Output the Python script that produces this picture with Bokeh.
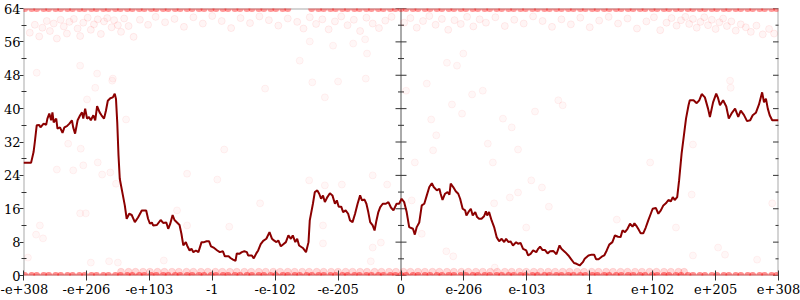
from bokeh.plotting import figure
from bokeh.models import FixedTicker, LinearAxis, Span, Range1d
from bokeh.embed import file_html
from bokeh.resources import INLINE

# ---- axis ticks / labels ----
tick_pos = [-6, -5, -4, -3, -2, -1, 0, 1, 2, 3, 4, 5, 6]
tick_labels = ["-e+308", "-e+206", "-e+103", "-1", "-e-102", "-e-205", "0",
               "e-206", "e-103", "1", "e+102", "e+205", "e+308"]
y_major = [0, 8, 16, 24, 32, 40, 48, 56, 64]
y_minor = [4, 12, 20, 28, 36, 44, 52, 60]

# ---- dark red line ----
line_x = [-6.0, -5.88, -5.84, -5.82, -5.79, -5.75, -5.73, -5.68, -5.64, -5.62, -5.59, -5.56, -5.54, -5.52,
          -5.48, -5.46, -5.42, -5.38, -5.35, -5.31, -5.27, -5.23, -5.21, -5.18, -5.14, -5.10, -5.07, -5.05,
          -5.02, -4.99, -4.96, -4.93, -4.89, -4.86, -4.83, -4.79, -4.76, -4.72, -4.69, -4.66, -4.62, -4.58,
          -4.55, -4.53, -4.51, -4.49, -4.47, -4.42, -4.39, -4.36, -4.32, -4.28, -4.23, -4.18, -4.12, -4.05,
          -4.02, -3.99, -3.96, -3.94, -3.88, -3.82, -3.78, -3.73, -3.70, -3.67, -3.63, -3.60, -3.56, -3.52,
          -3.49, -3.46, -3.42, -3.40, -3.36, -3.33, -3.30, -3.26, -3.22, -3.17, -3.13, -3.09, -3.05, -3.02,
          -2.97, -2.92, -2.88, -2.83, -2.80, -2.74, -2.71, -2.67, -2.63, -2.61, -2.57, -2.53, -2.49, -2.45,
          -2.43, -2.37, -2.34, -2.30, -2.27, -2.23, -2.19, -2.14, -2.09, -2.05, -2.02, -1.98, -1.95, -1.91,
          -1.87, -1.83, -1.79, -1.75, -1.72, -1.68, -1.65, -1.62, -1.56, -1.51, -1.47, -1.45, -1.40, -1.37,
          -1.33, -1.30, -1.27, -1.24, -1.21, -1.17, -1.13, -1.09, -1.05, -1.02, -0.99, -0.95, -0.92, -0.88,
          -0.84, -0.81, -0.77, -0.73, -0.69, -0.65, -0.62, -0.58, -0.55, -0.52, -0.49, -0.45, -0.42, -0.39,
          -0.36, -0.33, -0.29, -0.24, -0.20, -0.16, -0.12, -0.07, -0.03, 0.01, 0.05, 0.09, 0.13, 0.19,
          0.22, 0.25, 0.29, 0.33, 0.37, 0.41, 0.45, 0.49, 0.52, 0.57, 0.61, 0.63, 0.66, 0.70,
          0.74, 0.77, 0.79, 0.83, 0.87, 0.91, 0.94, 0.98, 1.02, 1.04, 1.08, 1.11, 1.14, 1.18,
          1.21, 1.24, 1.28, 1.32, 1.35, 1.37, 1.40, 1.44, 1.48, 1.52, 1.56, 1.60, 1.64, 1.67,
          1.71, 1.74, 1.78, 1.83, 1.86, 1.90, 1.94, 1.99, 2.02, 2.06, 2.10, 2.15, 2.18, 2.21,
          2.25, 2.29, 2.33, 2.37, 2.42, 2.47, 2.52, 2.55, 2.61, 2.66, 2.70, 2.75, 2.79, 2.84,
          2.89, 2.92, 2.98, 3.03, 3.07, 3.10, 3.14, 3.19, 3.23, 3.27, 3.31, 3.36, 3.40, 3.45,
          3.49, 3.52, 3.56, 3.60, 3.64, 3.68, 3.71, 3.75, 3.77, 3.81, 3.85, 3.89, 3.93, 3.97,
          4.00, 4.05, 4.09, 4.13, 4.17, 4.21, 4.25, 4.29, 4.32, 4.35, 4.39, 4.42, 4.46, 4.50,
          4.53, 4.57, 4.59, 4.65, 4.70, 4.74, 4.78, 4.83, 4.88, 4.91, 4.96, 5.01, 5.04, 5.07,
          5.12, 5.17, 5.21, 5.26, 5.31, 5.36, 5.40, 5.45, 5.50, 5.55, 5.59, 5.64, 5.69, 5.74,
          5.77, 5.80, 5.83, 5.86, 5.90, 5.94, 6.0]
line_y = [27.0, 27.0, 29.6, 32.0, 36.0, 36.1, 35.5, 36.4, 36.1, 37.6, 38.8, 37.2, 39.1, 36.7,
          37.6, 35.2, 35.5, 34.2, 35.5, 35.8, 36.4, 37.2, 35.5, 34.0, 37.2, 38.4, 39.1, 37.6,
          40.0, 37.6, 38.0, 37.2, 38.4, 37.2, 40.6, 39.1, 38.4, 37.6, 39.5, 41.9, 42.5, 42.7,
          43.6, 42.3, 36.7, 28.8, 23.2, 19.2, 16.8, 13.6, 14.8, 14.5, 12.8, 13.9, 15.6, 15.6,
          13.6, 12.4, 12.7, 12.0, 12.1, 13.3, 12.6, 12.7, 11.2, 12.3, 14.5, 13.3, 12.7, 12.1,
          10.0, 7.2, 8.0, 7.2, 6.0, 6.4, 5.6, 6.0, 5.6, 8.0, 8.0, 8.2, 8.2, 7.0,
          6.6, 6.0, 5.6, 5.8, 4.6, 4.6, 4.2, 3.8, 3.5, 5.3, 5.2, 5.6, 5.8, 5.6,
          4.8, 4.8, 4.1, 5.3, 6.0, 7.5, 8.3, 8.8, 10.4, 8.8, 8.4, 8.0, 8.4, 7.0,
          7.5, 8.0, 9.6, 8.8, 9.6, 8.0, 8.8, 7.2, 6.6, 5.6, 8.0, 13.2, 17.2, 20.0,
          20.4, 19.6, 18.4, 19.2, 17.6, 18.8, 19.7, 19.2, 17.2, 18.0, 16.5, 16.5, 15.2, 15.6,
          14.8, 13.2, 12.8, 14.8, 17.2, 19.2, 18.0, 18.2, 17.2, 15.2, 12.8, 12.0, 10.8, 13.2,
          15.2, 16.4, 17.2, 17.2, 17.6, 16.3, 15.6, 17.2, 17.2, 18.4, 17.6, 15.2, 11.6, 11.2,
          9.8, 11.6, 12.7, 16.8, 17.2, 19.2, 21.2, 22.1, 21.2, 20.4, 20.8, 19.6, 18.1, 19.6,
          20.0, 19.4, 22.0, 21.2, 20.2, 19.6, 18.4, 16.0, 15.6, 14.4, 15.4, 16.0, 14.4, 15.2,
          14.0, 13.6, 13.6, 14.2, 15.4, 14.4, 15.2, 13.2, 11.6, 9.2, 8.2, 8.8, 8.0, 8.8,
          8.0, 8.2, 7.2, 8.0, 7.6, 7.8, 6.4, 6.0, 4.8, 5.2, 6.0, 5.6, 6.4, 6.9,
          6.1, 6.1, 5.3, 5.8, 5.9, 5.1, 7.2, 6.4, 5.6, 4.8, 4.0, 3.0, 2.8, 2.4,
          3.2, 4.0, 4.8, 5.0, 5.0, 3.9, 3.9, 4.5, 4.8, 6.0, 7.4, 8.0, 9.6, 9.3,
          9.2, 10.8, 10.4, 11.2, 12.4, 11.7, 12.5, 11.7, 11.2, 10.1, 10.1, 11.5, 13.2, 14.8,
          16.0, 16.2, 14.8, 15.6, 16.8, 17.3, 18.1, 17.8, 18.8, 18.1, 18.8, 22.8, 29.2, 34.0,
          37.6, 40.8, 42.0, 42.0, 41.3, 42.0, 43.5, 42.7, 40.0, 38.0, 41.5, 43.6, 42.5, 40.8,
          42.0, 40.5, 37.6, 39.0, 40.0, 38.0, 39.5, 38.5, 37.0, 37.2, 38.4, 39.0, 41.0, 43.9,
          41.5, 42.4, 40.0, 38.4, 37.2, 37.2, 37.2]

# ---- faint scatter points ----
band_x = [-5.98, -5.87, -5.79, -5.68, -5.6, -5.49, -5.41, -5.3, -5.22, -5.11, -5.03, -4.92, -4.84,
          -4.73, -4.65, -4.54, -4.46, -4.35, -4.27, -4.16, -4.08, -3.97, -3.89, -3.78, -3.7, -3.59,
          -3.51, -3.4, -3.32, -3.21, -3.13, -3.02, -2.94, -2.83, -2.75, -2.64, -2.56, -2.45, -2.37,
          -2.26, -2.18, -2.07, -1.99, -1.88, -1.8, -1.69, -1.61, -1.5, -1.42, -1.31, -1.23, -1.12,
          -1.04, -0.93, -0.85, -0.74, -0.66, -0.55, -0.47, -0.36, -0.28, -0.17, -0.09, 0.0, 0.08,
          0.19, 0.27, 0.38, 0.46, 0.57, 0.65, 0.76, 0.84, 0.95, 1.03, 1.14, 1.22, 1.33, 1.41, 1.52,
          1.6, 1.71, 1.79, 1.9, 1.98, 2.09, 2.17, 2.28, 2.36, 2.47, 2.55, 2.66, 2.74, 2.85, 2.93,
          3.04, 3.12, 3.23, 3.31, 3.42, 3.5, 3.61, 3.69, 3.8, 3.88, 3.99, 4.07, 4.18, 4.26, 4.37,
          4.45, 4.56, 4.64, 4.75, 4.83, 4.94, 5.02, 5.13, 5.21, 5.32, 5.4, 5.51, 5.59, 5.7, 5.78,
          5.89, 5.97]
band_y = [0.0] * len(band_x)

low_x = [-4.45, -4.33, -4.22, -4.1, -3.99, -3.87, -3.76, -3.64, -3.53, -3.41, -3.3, -3.18, -3.07,
         -2.95, -2.84, -2.72, -2.61, -2.49, -2.38, -2.26, -2.15, -2.03, -1.92, -1.8, -1.69, -1.57,
         -1.46, -1.34, -1.23, -1.11, -1.0, -0.88, -0.77, -0.65, -0.54, -0.42, -0.31, -0.19, -0.08,
         0.04, 0.15, 0.27, 0.38, 0.5, 0.61, 0.73, 0.84, 0.96, 1.07, 1.19, 1.3, 1.42, 1.53, 1.65,
         1.76, 1.88, 1.99, 2.11, 2.22, 2.34, 2.45, 2.57, 2.68, 2.8, 2.91, 3.03, 3.14, 3.26, 3.37,
         3.49, 3.6, 3.72, 3.83, 3.95, 4.06, 4.18, 4.29, 4.41, 4.5]
low_y = [0.9] * len(low_x)

top_x = [x for x in band_x if not (-1.76 < x < -1.42)]
top_y = [64.0] * len(top_x)

cloud_x = [-5.9, -5.82, -5.75, -5.7, -5.63, -5.58, -5.52, -5.47, -5.41, -5.36, -5.31, -5.27, -5.2,
           -5.14, -5.1, -5.05, -4.98, -4.93, -4.88, -4.82, -4.77, -4.72, -4.67, -4.6, -4.56, -4.5,
           -4.45, -4.4, -4.33, -4.25, -4.15, -4.02, -3.9, -3.75, -3.6, -3.45, -3.3, -3.15, -3.0,
           -2.85, -2.7, -2.55, -2.4, -2.25, -2.1, -1.95, -1.8, -1.65, -1.55, -1.45, -1.35, -1.25,
           -1.15, -1.05, -0.95, -0.85, -0.75, -0.65, -0.55, -0.45, -0.35, -0.25, -0.15, 0.05, 0.15,
           0.25, 0.35, 0.45, 0.55, 0.65, 0.75, 0.85, 0.95, 1.05, 1.15, 1.25, 1.35, 1.5, 1.65, 1.8,
           1.95, 2.1, 2.25, 2.4, 2.55, 2.7, 2.85, 3.0, 3.15, 3.3, 3.45, 3.6, 3.75, 3.9, 4.02, 4.12,
           4.22, 4.3, 4.38, 4.45, 4.52, 4.58, 4.64, 4.7, 4.76, 4.82, 4.88, 4.94, 5.0, 5.06, 5.12,
           5.18, 5.25, 5.32, 5.4, 5.48, 5.56, 5.65, 5.75, 5.85, 5.93]
cloud_y = [58.2, 60.1, 57.3, 59.4, 61.0, 58.6, 60.4, 56.8, 61.3, 59.7, 58.0, 60.8, 61.5,
           59.2, 57.4, 60.6, 61.8, 58.9, 60.2, 61.4, 57.9, 60.9, 61.7, 59.5, 61.2, 60.0,
           58.4, 61.6, 59.8, 57.2, 61.3, 60.1, 62.0, 60.7, 61.5, 59.6, 61.9, 60.4, 62.2,
           61.0, 59.3, 61.7, 60.5, 62.1, 61.2, 59.9, 61.6, 60.8, 59.2, 61.9, 60.3, 61.4,
           59.0, 60.9, 62.1, 60.0, 61.3, 58.6, 61.8, 60.4, 59.3, 61.1, 62.0, 60.6, 61.7,
           59.4, 61.0, 62.2, 60.1, 61.5, 58.9, 61.2, 60.3, 62.0, 59.7, 61.4, 60.6, 61.9, 59.8, 61.3,
           60.4, 62.1, 61.0, 59.6, 61.4, 60.2, 61.8, 59.5, 61.1, 62.0, 60.4, 61.6, 59.2, 60.9, 61.9, 58.8,
           60.6, 61.7, 59.9, 61.2, 62.0, 60.3, 61.5, 59.4, 60.8, 61.9, 60.0, 61.3, 59.1, 60.7, 61.6,
           59.8, 60.9, 58.7, 60.2, 59.5, 58.4, 59.9, 57.8, 59.1, 58.0]

sparse_x = [-5.93, -5.80, -5.74, -5.69, -5.47, -5.29, -5.21, -5.10, -5.09, -5.05, -5.01, -4.99, -4.93,
            -4.86, -4.82, -4.75, -4.64, -4.62, -4.59, -4.53, -4.50, -4.37, -5.79, -4.83, -4.58, -5.10,
            -3.77, -3.56, -3.40, -3.40, -2.92, -2.81, -2.73, -2.24, -2.16, -1.61, -1.46, -1.45, -1.41,
            -1.24, -1.24, -1.21, -1.21, -1.08, -1.00, -0.94, -0.76, -0.57, -0.56, -0.54, -0.48, -0.45,
            -0.45, -0.32, -0.22, 0.08, 0.17, 0.22, 0.33, 0.41, 0.48, 0.51, 0.56, 0.72, 0.73, 0.81,
            0.83, 0.89, 0.97, 0.99, 1.13, 1.30, 1.38, 1.46, 1.48, 1.49, 1.62, 1.73, 1.76, 1.86, 1.86,
            1.99, 2.07, 2.13, 2.24, 2.35, 2.50, 2.57, 3.43, 3.96, 4.37, 4.62, 4.64, 4.64, 5.04, 5.15,
            5.23, 5.24, 5.66, 5.90]
sparse_y = [4.3, 9.8, 12.0, 8.9, 25.4, 31.6, 25.2, 14.9, 30.4, 26.4, 14.9, 42.2, 3.1,
            45.0, 27.1, 24.2, 3.4, 24.7, 46.7, 22.0, 3.1, 37.4, 48.6, 48.4, 47.2, 50.3,
            3.6, 15.6, 12.0, 24.4, 23.0, 30.2, 11.7, 17.3, 44.8, 51.5, 22.8, 56.1, 46.3,
            12.0, 7.7, 42.7, 21.6, 55.1, 46.5, 21.8, 55.6, 56.6, 47.2, 53.2, 3.4, 24.0,
            6.7, 7.9, 21.8, 44.3, 18.0, 27.1, 10.0, 46.0, 37.4, 30.0, 33.6, 5.8, 51.0, 41.0,
            4.6, 50.3, 38.8, 53.2, 43.4, 44.3, 31.6, 27.1, 17.3, 1.9, 37.6, 18.7, 35.5, 30.2, 19.9,
            11.5, 22.8, 39.3, 21.1, 16.5, 42.0, 40.8, 13.4, 27.1, 11.5, 19.4, 31.4, 4.8, 6.7, 5.0,
            46.7, 45.0, 3.8, 17.3]

FONT = "DejaVu Serif"
GRAY = "#aaaaaa"
TICK = "#333333"

p = figure(width=800, height=300, x_range=Range1d(-6, 6), y_range=Range1d(0, 64),
           output_backend="svg", toolbar_location=None,
           min_border_left=23, min_border_right=22, min_border_top=8, min_border_bottom=25)
p.grid.visible = False
p.outline_line_color = None
p.background_fill_color = "white"

# frame lines (under the glyphs)
for loc, dim in [(0, "width"), (64, "width"), (-6, "height"), (6, "height"), (0, "height")]:
    p.add_layout(Span(location=loc, dimension=dim, line_color=GRAY, line_width=2, level="underlay"))

# x axis
xa = p.xaxis[0]
xa.ticker = FixedTicker(ticks=tick_pos)
xa.major_label_overrides = {t: lab for t, lab in zip(tick_pos, tick_labels)}
xa.major_label_text_font = FONT
xa.major_label_text_font_size = "13px"
xa.major_label_text_color = "black"
xa.major_label_standoff = 3
xa.major_tick_in = 5
xa.major_tick_out = 5
xa.major_tick_line_color = TICK
xa.minor_tick_line_color = None
xa.axis_line_color = None

# left y axis
ya = p.yaxis[0]
ya.ticker = FixedTicker(ticks=y_major, minor_ticks=y_minor)
ya.major_label_text_font = FONT
ya.major_label_text_font_size = "13px"
ya.major_label_text_color = "black"
ya.major_label_standoff = -1
ya.major_tick_in = 0
ya.major_tick_out = 4
ya.minor_tick_in = 3
ya.minor_tick_out = 2
ya.major_tick_line_color = TICK
ya.minor_tick_line_color = TICK
ya.axis_line_color = None

# center and right tick marks (drawn from the tick lists)
for xpos in [0, 6]:
    p.scatter([xpos] * len(y_major), y_major, marker="dash", size=11, line_color=TICK, line_width=1)
    p.scatter([xpos] * len(y_minor), y_minor, marker="dash", size=6, line_color=TICK, line_width=1)

# scatter points
p.scatter(cloud_x, cloud_y, size=7, fill_color="red", fill_alpha=0.04, line_color="red", line_alpha=0.07)
p.scatter(sparse_x, sparse_y, size=7, fill_color="red", fill_alpha=0.03, line_color="red", line_alpha=0.05)
p.scatter(low_x, low_y, size=7, fill_color="red", fill_alpha=0.15, line_color="red", line_alpha=0.1)
p.scatter(band_x, band_y, size=7, fill_color="red", fill_alpha=0.45, line_color=None)
p.scatter(top_x, top_y, size=7, fill_color="red", fill_alpha=0.4, line_color=None)

# line
p.line(line_x, line_y, line_color="#8b0000", line_width=2)

open("out.html", "w").write(file_html(p, INLINE))
